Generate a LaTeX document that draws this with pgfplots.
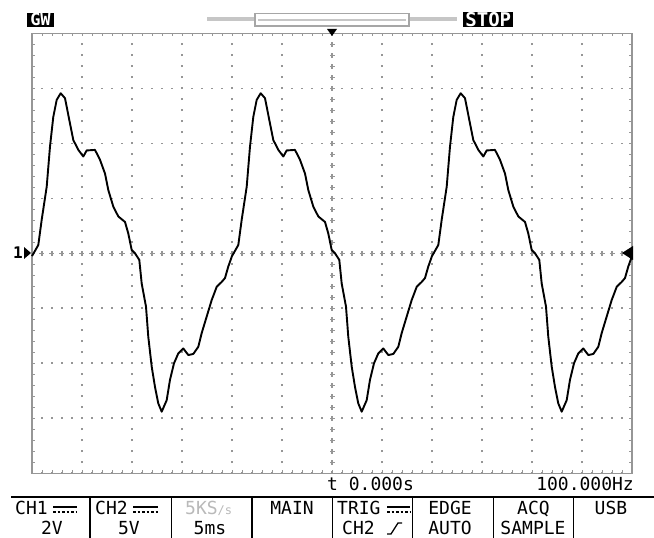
\documentclass[border=0pt]{standalone}
\usepackage{pgfplots}
\usepackage{pgfplotstable}
\pgfplotsset{compat=1.18}
\usepackage{fontspec}
\newfontfamily\scopefont{DejaVu Sans Mono}

% one period of the trace, t in divisions (0..4), Y in divisions
\pgfplotstableread{
t      Y
0.000  -0.05
0.126   0.15
0.194   0.61
0.294   1.21
0.360   1.94
0.426   2.48
0.494   2.79
0.574   2.91
0.660   2.82
0.760   2.36
0.826   2.06
0.926   1.88
1.026   1.76
1.094   1.87
1.260   1.88
1.360   1.70
1.460   1.45
1.526   1.15
1.626   0.85
1.726   0.67
1.860   0.57
1.926   0.36
1.994   0.06
2.060   0.00
2.146  -0.12
2.194  -0.55
2.280  -0.97
2.326  -1.52
2.394  -2.06
2.460  -2.43
2.526  -2.73
2.594  -2.88
2.694  -2.67
2.760  -2.30
2.840  -2.00
2.926  -1.82
3.026  -1.73
3.126  -1.85
3.226  -1.83
3.326  -1.70
3.394  -1.45
3.494  -1.15
3.594  -0.85
3.694  -0.61
3.794  -0.52
3.860  -0.45
3.926  -0.24
4.000  -0.05
}\period

\definecolor{grat}{RGB}{150,150,150}

\begin{document}
\begin{tikzpicture}
\path[use as bounding box] (0pt,0pt) rectangle (654pt,538pt);

\begin{axis}[
    at={(32pt,64.7pt)}, anchor=south west,
    scale only axis, width=600pt, height=440pt,
    xmin=-6, xmax=6, ymin=-4, ymax=4,
    xtick={-6,...,6}, ytick={-4,...,4},
    minor tick num=4,
    xticklabels={}, yticklabels={},
    tick align=inside,
    major tick length=3pt, minor tick length=3pt,
    tick style={grat, line width=0.9pt},
    axis line style={grat, line width=1.4pt},
    grid=major,
    major x grid style={grat, line width=1.6pt, dash pattern=on 1.6pt off 9.4pt, dash phase=0.8pt},
    major y grid style={grat, line width=1.6pt, dash pattern=on 1.6pt off 8.4pt, dash phase=0.8pt},
    clip=false,
]
% graticule crosses on the centre lines
\draw[grat, line width=5pt, dash pattern=on 1.4pt off 8.6pt, dash phase=0.7pt] (axis cs:-6,0) -- (axis cs:6,0);
\draw[grat, line width=1.4pt, dash pattern=on 5pt off 5pt, dash phase=2.5pt] (axis cs:-6,0) -- (axis cs:6,0);
\draw[grat, line width=5pt, dash pattern=on 1.4pt off 9.6pt, dash phase=0.7pt] (axis cs:0,-4) -- (axis cs:0,4);
\draw[grat, line width=1.4pt, dash pattern=on 5pt off 6pt, dash phase=2.5pt] (axis cs:0,-4) -- (axis cs:0,4);

\addplot[black, line width=1.9pt, line join=round] table[x expr=\thisrow{t}-6, y=Y] {\period};
\addplot[black, line width=1.9pt, line join=round] table[x expr=\thisrow{t}-2, y=Y] {\period};
\addplot[black, line width=1.9pt, line join=round] table[x expr=\thisrow{t}+2, y=Y] {\period};
\end{axis}

\begin{scope}[yshift=538pt, x=1pt, y=-1pt]
% markers
\fill (327,29) -- (337,29) -- (332,36) -- cycle;
\fill (633,246) -- (633,260) -- (622,253) -- cycle;
\fill (24,247) -- (24,259) -- (31,253) -- cycle;
\node[anchor=base east, inner sep=0pt, font=\scopefont\bfseries\fontsize{16}{16}\selectfont] at (23,259) {1};

% top status line
\node[fill=black, text=white, inner sep=0pt, minimum width=27pt, minimum height=14pt,
      font=\scopefont\bfseries\fontsize{17}{17}\selectfont] at (40.5,19.8) {GW};
\node[fill=black, text=white, inner sep=0pt, minimum width=50pt, minimum height=15pt,
      font=\scopefont\bfseries\fontsize{19}{19}\selectfont] at (488.3,19.2) {STOP};
\draw[gray!45, line width=4pt] (207,19.5) -- (457,19.5);
\draw[gray!70, line width=1.2pt, fill=white] (255,13.5) rectangle (409,26);
\draw[gray!45, line width=2pt] (258,19.7) -- (406,19.7);

\begin{scope}[every node/.style={inner sep=0pt, font=\scopefont\fontsize{18}{18}\selectfont}]
% time / frequency line
\node[anchor=base west] at (327,491) {t 0.000s};
\node[anchor=base east] at (634,491) {100.000Hz};

% menu bar
\draw[black, line width=2pt] (11,497) -- (654,497);
\foreach \xs in {90,171.7,252,332.3,412.3,493.3,573.3}
  \draw[black, line width=1.5pt] (\xs,497) -- (\xs,538);

\node[anchor=base west] at (15,515) {CH1};
\draw[line width=1.2pt] (53,507) -- (77,507);
\draw[line width=1.2pt, dash pattern=on 2.5pt off 2pt] (53,512) -- (77,512);
\node[anchor=base] at (52,535) {2V};

\node[anchor=base west] at (95,515) {CH2};
\draw[line width=1.2pt] (133,507) -- (158,507);
\draw[line width=1.2pt, dash pattern=on 2.5pt off 2pt] (133,512) -- (158,512);
\node[anchor=base] at (129,535) {5V};

\node[anchor=base west, text=gray!55] at (185,515) {5KS\fontsize{12}{12}\selectfont/s};
\node[anchor=base] at (210,535) {5ms};

\node[anchor=base] at (292,515) {MAIN};

\node[anchor=base west] at (337,515) {TRIG};
\draw[line width=1.2pt] (387,507) -- (410,507);
\draw[line width=1.2pt, dash pattern=on 2.5pt off 2pt] (387,512) -- (410,512);
\node[anchor=base west] at (342,535) {CH2};
\draw[line width=1.3pt] (387,534) -- (391,534) -- (398,523) -- (402,523);

\node[anchor=base] at (450,515) {EDGE};
\node[anchor=base] at (450,535) {AUTO};

\node[anchor=base] at (533.5,515) {ACQ};
\node[anchor=base] at (533,535) {SAMPLE};

\node[anchor=base] at (611,515) {USB};
\end{scope}
\end{scope}
\end{tikzpicture}
\end{document}
